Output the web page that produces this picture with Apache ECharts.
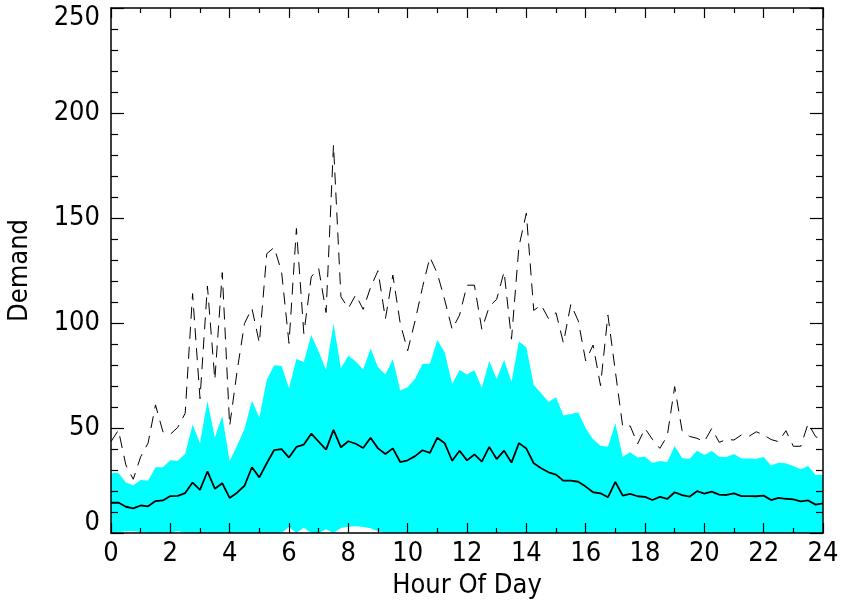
<!DOCTYPE html>
<html>
<head>
<meta charset="utf-8">
<script src="https://cdn.jsdelivr.net/npm/echarts@6/dist/echarts.min.js"></script>
<style>
  html, body { margin: 0; padding: 0; background: #fff; }
  #demandChart { width: 841px; height: 609px; }
</style>
</head>
<body>
<div id="demandChart"></div>
<script>
// one value every 15 minutes, hour 0 .. 24
var stepHours = 0.25;

var meanDemand = [
    14.4, 14.5, 12.5, 11.7, 13.1, 12.7, 15.2, 15.5, 17.6, 17.7, 19, 24, 20.5, 29.3, 21.1, 23.7,
    16.7, 19.2, 22.5, 31.3, 26.5, 33.2, 39.5, 39.9, 35.9, 41, 42.1, 47.3, 43.5, 39.7, 49.1, 40.8,
    43.7, 42.5, 40.5, 45.4, 40.3, 37.6, 40.3, 33.8, 34.6, 36.6, 39.4, 38.2, 45.4, 42.7, 34.4, 39.2,
    34.6, 37.4, 34, 41, 35.2, 39.2, 33.5, 42.8, 40.2, 33.2, 30.8, 28.9, 27.8, 24.9, 24.9, 24.4,
    22.1, 19.4, 18.9, 17, 24.3, 17.8, 18.6, 17.5, 17.2, 15.7, 17.2, 16.2, 19.4, 18, 17.3, 19.9,
    18.8, 19.7, 18.3, 18.1, 18.9, 17.6, 17.6, 17.5, 17.8, 15.7, 16.7, 16.3, 16, 15.1, 15.5, 13.5,
    14.1
];

var upperDemand = [
    28.4, 28.7, 24, 22.7, 25.2, 24.9, 31.3, 31.3, 34.7, 34.4, 37.6, 51.7, 42.7, 62.8, 45.5, 55.7,
    34.3, 41.6, 49.7, 63, 55, 72.9, 79.9, 79.5, 68.9, 82.9, 81.4, 94.3, 86.4, 77.6, 99.8, 78.4,
    84.4, 81.7, 77.9, 87.9, 78.9, 75.5, 82.7, 67.8, 69.4, 73.5, 80.5, 80.6, 91.9, 86, 71, 77.6,
    75.5, 77.5, 69.2, 81.9, 73.3, 82.4, 71.9, 91.2, 88.4, 70.5, 66.5, 62.4, 64.6, 55.9, 56.7, 57.5,
    49.9, 44.6, 41.6, 41.1, 52.2, 36.3, 38.4, 35.9, 36.3, 33.3, 34.3, 33.8, 41.4, 35.7, 35.2, 39.2,
    37.1, 39, 36.3, 36.2, 37.6, 35.5, 35.5, 35.4, 36.2, 32.1, 33.5, 33.2, 31.9, 30.3, 31.9, 27.6,
    27.6
];

var lowerDemand = [
    0, 0.4, 0.8, 0.8, 0.5, 0, 0, 0, 0, 0.9, 0, 0, 0, 0, 0, 0,
    0, 0, 0, 0, 0, 0, 0, 0, 2.9, 0, 2.5, 0, 0, 1.8, 0, 2.4,
    3, 3.2, 2.9, 2.3, 0.8, 0, 0, 0, 0, 0, 0, 0, 0, 0, 0, 0,
    0, 0, 0, 0, 0, 0, 0, 0, 0, 0, 0, 0, 0, 0, 0, 0,
    0, 0, 0, 0, 0, 0, 0, 0, 0, 0, 0, 0, 0, 0, 0, 0,
    0, 0, 0, 0, 0, 0, 0, 0, 0, 0, 0, 0, 0, 0, 0, 0,
    0
];

var maxDemand = [
    43.5, 49, 32.4, 25.6, 36.3, 42.8, 61, 48.2, 47, 50.3, 57, 114, 64, 117.6, 72.9, 124,
    51, 77, 99.8, 107, 90.5, 133, 136, 124.4, 90.3, 145, 95, 122, 126, 105, 184.8, 112.5,
    107, 113.4, 106.5, 117, 124.9, 102, 122.8, 99.8, 86.8, 101, 117, 131.3, 123.6, 110.9, 97, 103.8,
    118, 118, 97, 107.8, 111.3, 124.4, 92.3, 136.4, 152.3, 106, 108.6, 102, 104.9, 90.5, 109, 101,
    82, 89.5, 70.2, 103.8, 77, 50.6, 51, 42.4, 49.8, 44.6, 40.3, 46.2, 69.7, 48.7, 46, 45.1,
    43.5, 49.8, 43.2, 44.5, 44.3, 46.7, 46, 48.2, 46.7, 44.5, 43.5, 48.7, 41.3, 41.3, 52.2, 45.9,
    44
];

var hourTicks = { min: 0, max: 24, interval: 2 };
var demandTicks = { min: 0, max: 250, interval: 50 };

var fontFamily = "'Liberation Sans Narrow', 'DejaVu Sans Condensed', sans-serif";
var fontSize = 27;

function pairs(values) {
    return values.map(function (v, i) { return [i * stepHours, v]; });
}

var axisColor = '#000';

function xAxisCfg(pos, showLabel) {
    return {
        type: 'value',
        position: pos,
        min: hourTicks.min,
        max: hourTicks.max,
        interval: hourTicks.interval,
        z: 10,
        axisLine: { show: true, onZero: false, lineStyle: { color: axisColor, width: 1.5 } },
        axisTick: { show: true, inside: true, length: 10, lineStyle: { color: axisColor, width: 1.2 } },
        minorTick: { show: true, splitNumber: 2, length: 5, lineStyle: { color: axisColor, width: 1.2 } },
        splitLine: { show: false },
        minorSplitLine: { show: false },
        axisLabel: {
            show: showLabel,
            color: '#000',
            fontSize: fontSize,
            fontFamily: fontFamily,
            margin: 7
        },
        name: showLabel ? 'Hour Of Day' : '',
        nameLocation: 'middle',
        nameGap: 39,
        nameTextStyle: { color: '#000', fontSize: fontSize, fontFamily: fontFamily }
    };
}

function yAxisCfg(pos, showLabel) {
    return {
        type: 'value',
        position: pos,
        min: demandTicks.min,
        max: demandTicks.max,
        interval: demandTicks.interval,
        z: 10,
        axisLine: { show: true, onZero: false, lineStyle: { color: axisColor, width: 1.5 } },
        axisTick: { show: true, inside: true, length: 13, lineStyle: { color: axisColor, width: 1.2 } },
        minorTick: { show: true, splitNumber: 5, length: 7, lineStyle: { color: axisColor, width: 1.2 } },
        splitLine: { show: false },
        minorSplitLine: { show: false },
        axisLabel: {
            show: showLabel,
            color: '#000',
            fontSize: fontSize,
            fontFamily: fontFamily,
            margin: 11,
            // end labels sit inside the frame, as in the original
            formatter: function (v) {
                if (v === demandTicks.min) return '{lo|' + v + '}';
                if (v === demandTicks.max) return '{hi|' + v + '}';
                return String(v);
            },
            rich: {
                lo: { fontSize: fontSize, fontFamily: fontFamily, color: '#000', padding: [0, 0, 20, 0] },
                hi: { fontSize: fontSize, fontFamily: fontFamily, color: '#000', padding: [20, 0, 0, 0] }
            }
        },
        name: showLabel ? 'Demand' : '',
        nameLocation: 'middle',
        nameGap: 78,
        nameTextStyle: { color: '#000', fontSize: fontSize, fontFamily: fontFamily }
    };
}

var chart = echarts.init(document.getElementById('demandChart'), null, { renderer: 'canvas' });

var option = {
    animation: false,
    backgroundColor: '#fff',
    grid: { left: 111, right: 18, top: 8, bottom: 76, containLabel: false, outerBoundsMode: 'none' },
    xAxis: [xAxisCfg('bottom', true), xAxisCfg('top', false)],
    yAxis: [yAxisCfg('left', true), yAxisCfg('right', false)],
    series: [
        {
            name: 'upper',
            type: 'line',
            data: pairs(upperDemand),
            symbol: 'none',
            lineStyle: { width: 0 },
            areaStyle: { color: '#00ffff', opacity: 1 },
            z: 1
        },
        {
            name: 'lower',
            type: 'line',
            data: pairs(lowerDemand),
            symbol: 'none',
            lineStyle: { width: 0 },
            areaStyle: { color: '#ffffff', opacity: 1 },
            z: 2
        },
        {
            name: 'max',
            type: 'line',
            data: pairs(maxDemand),
            symbol: 'none',
            lineStyle: { color: '#000', width: 1, type: [12, 8] },
            z: 3
        },
        {
            name: 'mean',
            type: 'line',
            data: pairs(meanDemand),
            symbol: 'none',
            lineStyle: { color: '#000', width: 1.8 },
            z: 4
        }
    ]
};

chart.setOption(option);
</script>
</body>
</html>
